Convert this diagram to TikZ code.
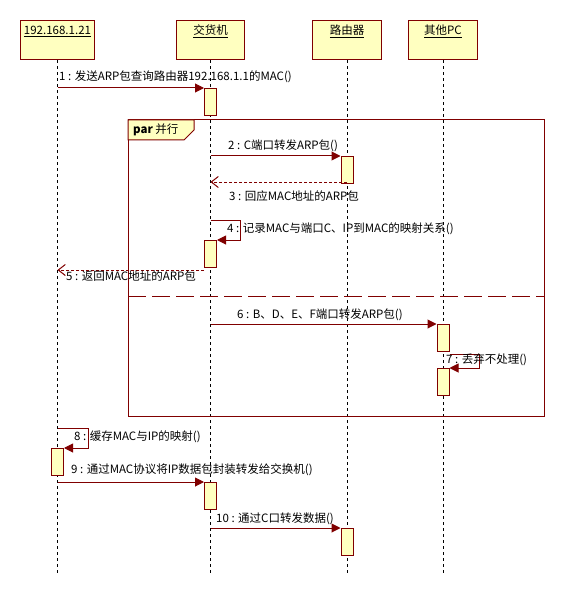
\documentclass[tikz,border=0pt]{standalone}
\usepackage{fontspec}
\setmainfont{Noto Sans CJK SC}
\usetikzlibrary{arrows.meta}
\definecolor{umlline}{RGB}{128,0,0}
\definecolor{umlfill}{RGB}{255,255,192}
\tikzset{
	head/.style={draw=umlline, fill=umlfill, line width=1bp, inner sep=0pt, anchor=north west,
		minimum height=39.3bp, text height=14bp, text depth=25.3bp, font=\fontsize{11.5bp}{13bp}\selectfont},
	life/.style={black, line width=1bp, dash pattern=on 3bp off 3bp},
	act/.style={draw=umlline, fill=umlfill, line width=1bp, inner sep=0pt, anchor=north,
		minimum width=12bp, minimum height=27bp},
	msg/.style={umlline, line width=1bp, -{Triangle[length=9bp,width=9bp]}},
	ret/.style={umlline, line width=1bp, dash pattern=on 3bp off 2bp, -{Straight Barb[length=7bp,width=11bp]}},
	lbl/.style={anchor=west, inner sep=0pt, font=\fontsize{11.5bp}{13bp}\selectfont},
	frame/.style={umlline, line width=1bp}
}
\begin{document}
\begin{tikzpicture}[x=1bp, y=-1bp]
			%%%%% START %%%%%
			\useasboundingbox (0,0) rectangle (564,596);
			
			% heads and lifelines
			\node[head, minimum width=74bp] (ip) at (20,20) {\underline{192.168.1.21}};
			\node[head, minimum width=68bp] (sw) at (176,20) {\underline{交货机}};
			\node[head, minimum width=69bp] (rt) at (312,20) {\underline{路由器}};
			\node[head, minimum width=69bp] (pc) at (408,20) {\underline{其他PC}};
			
			\coordinate (bottom) at (0,573);
			\draw[life] (ip.south) -- (ip.south |- bottom);
			\draw[life] (sw.south) -- (sw.south |- bottom);
			\draw[life] (rt.south) -- (rt.south |- bottom);
			\draw[life] (pc.south) -- (pc.south |- bottom);
			
			% par frame
			\draw[frame] (128,120) rectangle (544,416);
			\draw[frame, fill=umlfill] (128,120) -- (194,120) -- (194,130) -- (184,140) -- (128,140) -- cycle;
			\node[lbl] (par) at (133,130) {\textbf{par} 并行};
			\draw[frame, dash pattern=on 18bp off 6bp] (128,296) -- (544,296);
			
			% activations
			\node[act] (a1) at (sw.south |- 0,88) {};
			\node[act] (a2) at (rt.south |- 0,156) {};
			\node[act] (a3) at (sw.south |- 0,240) {};
			\node[act] (a4) at (pc.south |- 0,324) {};
			\node[act] (a5) at (pc.south |- 0,368) {};
			\node[act] (a6) at (ip.south |- 0,448) {};
			\node[act] (a7) at (sw.south |- 0,482) {};
			\node[act] (a8) at (rt.south |- 0,528) {};
			
			% messages
			\draw[msg] (ip.south |- a1.north) -- (a1.north west);
			\node[lbl] (m1) at (59,77) {1 : 发送ARP包查询路由器192.168.1.1的MAC()};
			
			\draw[msg] (sw.south |- a2.north) -- (a2.north west);
			\node[lbl] (m2) at (228,146) {2 : C端口转发ARP包()};
			
			\coordinate (r3) at ([yshift=2bp]rt.south |- a2.south);
			\draw[ret] (r3) -- (sw.south |- r3);
			\node[lbl] (m3) at (229,196) {3 : 回应MAC地址的ARP包};
			
			\coordinate (s4) at (sw.south |- 0,220);
			\draw[msg] (s4) -- ++(30,0) |- (a3.north east);
			\node[lbl] (m4) at (227,229) {4 : 记录MAC与端口C、IP到MAC的映射关系()};
			
			\coordinate (r5) at ([yshift=-2bp]a3.south west);
			\draw[ret] (r5) -- (ip.south |- r5);
			\node[lbl] (m5) at (66,276) {5 : 返回MAC地址的ARP包};
			
			\draw[msg] (sw.south |- a4.north) -- (a4.north west);
			\node[lbl] (m6) at (237,315) {6 : B、D、E、F端口转发ARP包()};
			
			\coordinate (s7) at ([yshift=-2bp]a4.south east);
			\draw[msg] (s7) -- ++(30,0) |- (a5.north east);
			\node[lbl] (m7) at (446,360) {7 : 丢弃不处理()};
			
			\coordinate (s8) at (ip.south |- 0,428);
			\draw[msg] (s8) -- ++(31,0) |- (a6.north east);
			\node[lbl] (m8) at (74,437) {8 : 缓存MAC与IP的映射()};
			
			\draw[msg] (ip.south |- a7.north) -- (a7.north west);
			\node[lbl] (m9) at (71,470) {9 : 通过MAC协议将IP数据包封装转发给交换机()};
			
			\draw[msg] (sw.south |- a8.north) -- (a8.north west);
			\node[lbl] (m10) at (216,519) {10 : 通过C口转发数据()};
			%%%%% END %%%%%
\end{tikzpicture}
\end{document}
